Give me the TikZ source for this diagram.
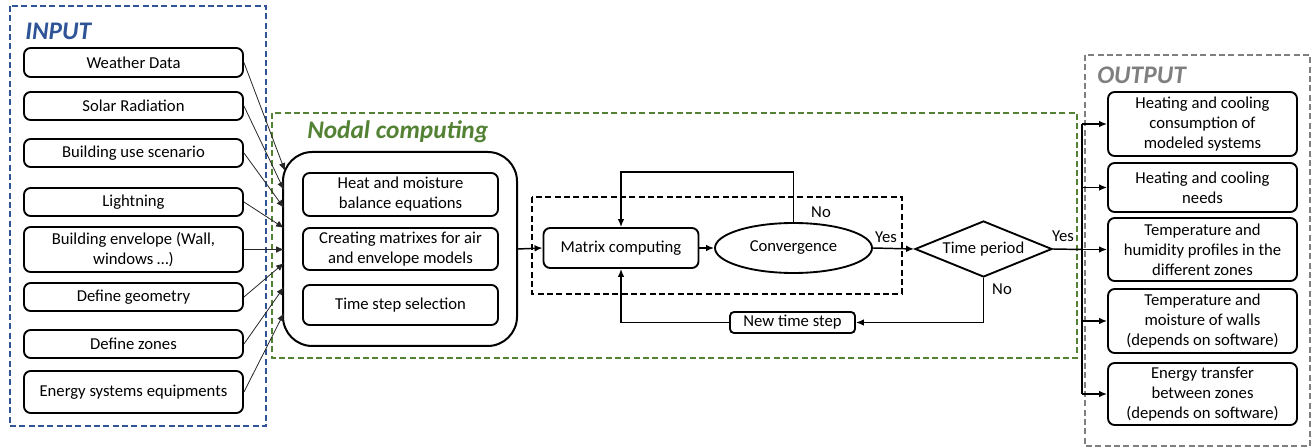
\documentclass[tikz,border=0pt]{standalone}
\usepackage{fontspec}
\setmainfont{Carlito}
\usetikzlibrary{shapes.geometric,arrows.meta}
\definecolor{inblue}{HTML}{2F5597}
\definecolor{nodgreen}{HTML}{548235}
\definecolor{outgray}{HTML}{7F7F7F}
\newcommand{\px}{0.75pt}
\tikzset{
  box/.style={draw, rounded corners=5pt, line width=1.4pt, align=center, inner sep=0pt,
    font=\fontsize{12.5}{15}\selectfont},
  inbox/.style={box, minimum width=219*\px},
  outbox/.style={box, minimum width=189*\px},
  innerbox/.style={box, minimum width=195*\px},
  frame/.style={dashed, dash pattern=on 4.5pt off 2.5pt, line width=1.2pt},
  title/.style={font=\fontsize{19}{20}\selectfont\bfseries\itshape, anchor=west, inner sep=0pt},
  lbl/.style={font=\fontsize{12.5}{15}\selectfont, inner sep=0pt},
  feed/.style={line width=0.6pt, draw=black!85, -{Latex[length=6pt,width=5pt]}},
  arr/.style={line width=1.1pt, -{Latex[length=6pt,width=5pt]}},
  flow/.style={line width=1.1pt},
}
\begin{document}
\begin{tikzpicture}[x=0.75pt,y=-0.75pt]
\useasboundingbox (0,0) rectangle (1316,448);

% group frames
\draw[frame, inblue] (10,6) rectangle (266,426);
\draw[frame, nodgreen] (272,113) rectangle (1077,358);
\draw[frame, outgray] (1085,55) rectangle (1310,446);
\draw[frame, black] (532,197) rectangle (902,294);

\node[title, text=inblue] (tin) at (25,31) {INPUT};
\node[title, text=nodgreen] (tnod) at (307,132) {Nodal computing};
\node[title, text=outgray] (tout) at (1097,75) {OUTPUT};

% input data
\node[inbox, minimum height=29*\px] (i1) at (133.5,62.5) {Weather Data};
\node[inbox, minimum height=28*\px] (i2) at (133.5,106) {Solar Radiation};
\node[inbox, minimum height=28*\px] (i3) at (133.5,153) {Building use scenario};
\node[inbox, minimum height=28*\px] (i4) at (133.5,202) {Lightning};
\node[inbox, minimum height=45*\px] (i5) at (133.5,249.5) {Building envelope (Wall,\\ windows …)};
\node[inbox, minimum height=28*\px] (i6) at (133.5,297) {Define geometry};
\node[inbox, minimum height=28*\px] (i7) at (133.5,344) {Define zones};
\node[inbox, minimum height=42*\px] (i8) at (133.5,392) {Energy systems equipments};

% nodal model block
\node[draw, line width=1.5pt, rounded corners=22pt, minimum width=234*\px, minimum height=194*\px] (big) at (400,249) {};
\node[innerbox, minimum height=43*\px] (n1) at (400.5,194.5) {Heat and moisture\\ balance equations};
\node[innerbox, minimum height=42*\px] (n2) at (400.5,249) {Creating matrixes for air\\ and envelope models};
\node[innerbox, minimum height=40*\px] (n3) at (400.5,305) {Time step selection};

% entry points on the model block
\coordinate (t1) at (285,171);
\coordinate (t2) at (284,190);
\coordinate (t3) at (284,208);
\coordinate (t4) at (284,228);
\coordinate (t5) at (284,249.5);
\coordinate (t6) at (284,263);
\coordinate (t7) at (284,287);
\coordinate (t8) at (284,313);
\foreach \k in {1,...,8} {\draw[feed] (i\k.east) -- (t\k);}

% iterative solver
\node[box, minimum width=155*\px, minimum height=40*\px] (mat) at (621,248) {Matrix computing};
\node[draw, ellipse, line width=1.4pt, inner sep=0pt, minimum width=157*\px, minimum height=50*\px,
  font=\fontsize{12.5}{15}\selectfont] (conv) at (793.5,248) {Convergence};
\node[draw, diamond, aspect=2.4, line width=1.4pt, inner sep=0pt, minimum width=137*\px, minimum height=56*\px,
  font=\fontsize{12.5}{15}\selectfont] (tp) at (983.5,249) {Time period};
\node[box, rounded corners=3pt, minimum width=125*\px, minimum height=21*\px] (nts) at (792.5,322.5) {New time step};

\coordinate (loopT) at (0,172);
\coordinate (bus) at (1082,0);

\draw[arr] (big.east) -- (mat.west);
\draw[arr] (mat.east) -- (conv.west);
\draw[arr] (conv.north) -- (conv.north |- loopT) -| (mat.north);
\draw[arr] (conv.east) -- (tp.west);
\draw[arr] (tp.south) |- (nts.east);
\draw[arr] (nts.west) -| (mat.south);

\node[lbl] (no1) at (821,212) {No};
\node[lbl] (yes1) at (886,237) {Yes};
\node[lbl] (no2) at (1002,289) {No};
\node[lbl] (yes2) at (1063,236) {Yes};

% results
\node[outbox, minimum height=64*\px] (o1) at (1202.5,124) {Heating and cooling\\ consumption of\\ modeled systems};
\node[outbox, minimum height=49*\px] (o2) at (1202.5,187.5) {Heating and cooling\\ needs};
\node[outbox, minimum height=63*\px] (o3) at (1202.5,249.5) {Temperature and\\ humidity profiles in the\\ different zones};
\node[outbox, minimum height=64*\px] (o4) at (1202.5,321) {Temperature and\\ moisture of walls\\ (depends on software)};
\node[outbox, minimum height=62*\px] (o5) at (1202.5,394) {Energy transfer\\ between zones\\ (depends on software)};

\draw[flow] (tp.east) -- (bus |- o3.west);
\draw[flow] (bus |- o1.west) -- (bus |- o5.west);
\foreach \k in {1,...,5} {\draw[arr] (bus |- o\k.west) -- (o\k.west);}
\end{tikzpicture}
\end{document}
